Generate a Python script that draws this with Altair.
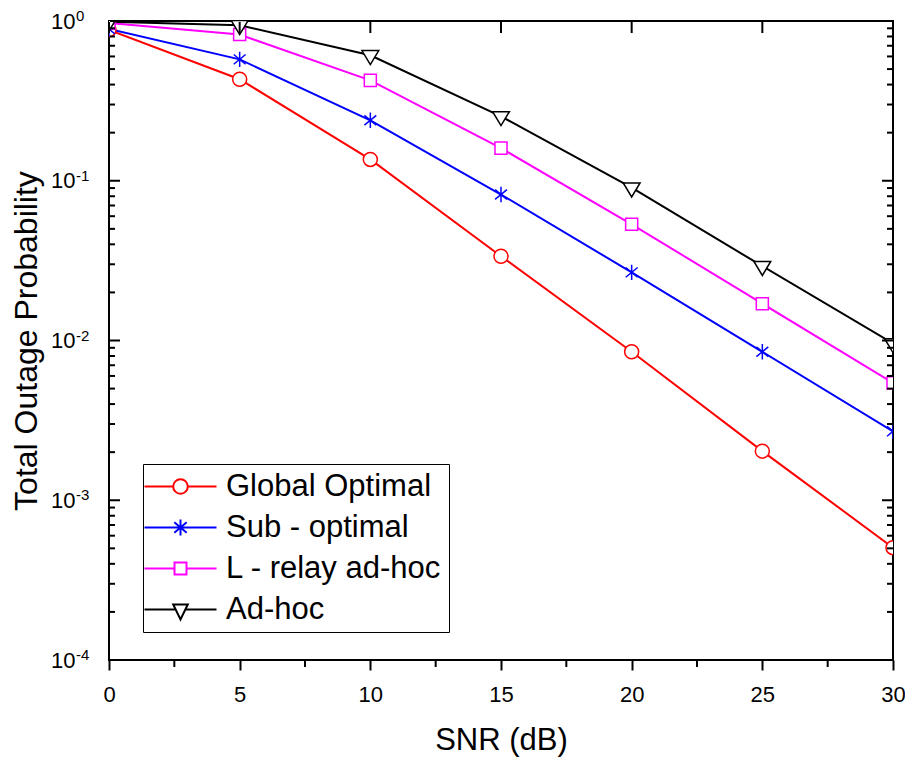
import altair as alt
import pandas as pd

# ---------------- data ----------------
snr = [0, 5, 10, 15, 20, 25, 30]
series_names = ["Global Optimal", "Sub - optimal", "L - relay ad-hoc", "Ad-hoc"]
global_optimal = [0.88, 0.432, 0.136, 0.0337, 0.0085, 0.00203, 0.000505]
sub_optimal = [0.89, 0.575, 0.239, 0.082, 0.0267, 0.0085, 0.0027]
l_relay_adhoc = [0.97, 0.822, 0.425, 0.16, 0.0534, 0.017, 0.00543]
ad_hoc = [0.99, 0.94, 0.61, 0.253, 0.0905, 0.0292, 0.0096]
series_colors = ["#FF0000", "#0000FF", "#FF00FF", "#000000"]

# axis ticks / labels
x_major = [0, 5, 10, 15, 20, 25, 30]
x_minor = [2.5, 7.5, 12.5, 17.5, 22.5, 27.5]
y_major = [1, 0.1, 0.01, 0.001, 0.0001]
y_exponents = ["0", "-1", "-2", "-3", "-4"]
y_minor = [m * 10.0 ** e for e in (-4, -3, -2, -1) for m in range(2, 10)]

# ---------------- marker shapes ----------------
marker_paths = [
    "M1,0 A1,1 0 1,1 -1,0 A1,1 0 1,1 1,0 Z",
    "M0,-1.1 L0,1.1 M-0.85,-0.7 L0.85,0.7 M-0.85,0.7 L0.85,-0.7",
    "M-0.86,-0.86 L0.86,-0.86 L0.86,0.86 L-0.86,0.86 Z",
    "M-1.2,-0.67 L1.2,-0.67 L0,1.33 Z",
]
legend_paths = [
    "M-3.6,0 L-0.73,0 M0.73,0 L3.6,0 M0.73,0 A0.73,0.73 0 1,1 -0.73,0 A0.73,0.73 0 1,1 0.73,0 Z",
    "M-3.6,0 L3.6,0 M0,-0.8 L0,0.8 M-0.62,-0.52 L0.62,0.52 M-0.62,0.52 L0.62,-0.52",
    "M-3.6,0 L-0.6,0 M0.6,0 L3.6,0 M-0.6,-0.6 L0.6,-0.6 L0.6,0.6 L-0.6,0.6 Z",
    "M-3.6,0 L-0.49,0 M0.49,0 L3.6,0 M-0.73,-0.5 L0.73,-0.5 L0,1.0 Z",
]

rows = []
for name, vals in zip(series_names,
                      [global_optimal, sub_optimal, l_relay_adhoc, ad_hoc]):
    for x, v in zip(snr, vals):
        rows.append({"SNR": x, "P": v, "series": name})
df = pd.DataFrame(rows)

W, H = 784, 639
FONT = "Liberation Sans"

xscale = alt.Scale(domain=[0, 30], nice=False, zero=False)
yscale = alt.Scale(type="log", domain=[1e-4, 1], nice=False)
stroke_scale = alt.Scale(domain=series_names, range=series_colors)

x_axis = alt.Axis(values=x_major, tickSize=10, tickWidth=2, tickColor="black",
                  domain=False, grid=False, labelFont=FONT, labelFontSize=22,
                  labelColor="black", labelPadding=14, labelFlush=False,
                  title="SNR (dB)", titleFont=FONT, titleFontSize=31,
                  titleFontWeight="normal", titleColor="black", titlePadding=20)
y_axis = alt.Axis(values=y_major, ticks=False, domain=False, grid=False,
                  labelExpr="'10'", labelFont=FONT, labelFontSize=22,
                  labelColor="black", labelPadding=34, labelFlush=False,
                  title="Total Outage Probability", titleFont=FONT,
                  titleFontSize=32, titleFontWeight="normal",
                  titleColor="black", titlePadding=7)

X = lambda f: alt.X(f, scale=xscale, axis=x_axis)
Y = lambda f: alt.Y(f, scale=yscale, axis=y_axis)

base = alt.Chart(df)

lines = base.mark_line(strokeWidth=2, clip=True).encode(
    x=X("SNR:Q"),
    y=Y("P:Q"),
    stroke=alt.Stroke("series:N", scale=stroke_scale, legend=None),
    detail="series:N",
)

points = base.mark_point(filled=False, size=196, strokeWidth=1.5,
                         opacity=1, clip=True).encode(
    x=X("SNR:Q"),
    y=Y("P:Q"),
    stroke=alt.Stroke("series:N", scale=stroke_scale, legend=None),
    shape=alt.Shape("series:N",
                    scale=alt.Scale(domain=series_names, range=marker_paths),
                    legend=None),
    fill=alt.value("white"),
)

leg = alt.Legend(title=None, orient="none", legendX=34, legendY=443,
                 padding=7, rowPadding=9, symbolSize=400, symbolStrokeWidth=2,
                 symbolFillColor="white", symbolOffset=15, labelOffset=30,
                 labelFont=FONT, labelFontSize=31, labelColor="black",
                 labelLimit=400, strokeColor="black", fillColor="white")

legend_layer = base.transform_filter("false").mark_point(
    filled=False, size=400, strokeWidth=2, opacity=1).encode(
    x=X("SNR:Q"),
    y=Y("P:Q"),
    stroke=alt.Stroke("series:N", scale=stroke_scale, legend=leg),
    shape=alt.Shape("series:N",
                    scale=alt.Scale(domain=series_names, range=legend_paths),
                    legend=leg),
    fill=alt.value("white"),
)

ymaj_df = pd.DataFrame({"v": y_major, "e": y_exponents})
ymin_df = pd.DataFrame({"v": y_minor})
xmaj_df = pd.DataFrame({"v": x_major})
xmin_df = pd.DataFrame({"v": x_minor})

def yrule(data, x0, x1):
    return alt.Chart(data).mark_rule(color="black", strokeWidth=2).encode(
        y=Y("v:Q"), x=alt.value(x0), x2=alt.value(x1))

def xrule(data, y0, y1):
    return alt.Chart(data).mark_rule(color="black", strokeWidth=2).encode(
        x=X("v:Q"), y=alt.value(y0), y2=alt.value(y1))

ticks = [
    yrule(ymaj_df, 1, 11), yrule(ymin_df, 1, 6),
    yrule(ymaj_df, W, W - 11), yrule(ymin_df, W, W - 6),
    xrule(xmaj_df, 1, 12),
    xrule(xmin_df, H, H + 7),
]

exponents = alt.Chart(ymaj_df).mark_text(
    align="left", baseline="middle", dy=-5, font=FONT, fontSize=15,
    color="black").encode(
    y=Y("v:Q"),
    x=alt.value(-33),
    text="e:N",
)

chart = alt.layer(lines, points, legend_layer, *ticks, exponents).resolve_scale(
    shape="independent", stroke="independent"
).properties(
    width=W, height=H,
    padding={"left": 101, "top": 13, "right": 12, "bottom": 100},
    autosize=alt.AutoSizeParams(type="none"),
    background="white",
).configure_view(stroke="black", strokeWidth=2)

chart.save("out.html", embed_options={"renderer": "svg", "actions": False})
